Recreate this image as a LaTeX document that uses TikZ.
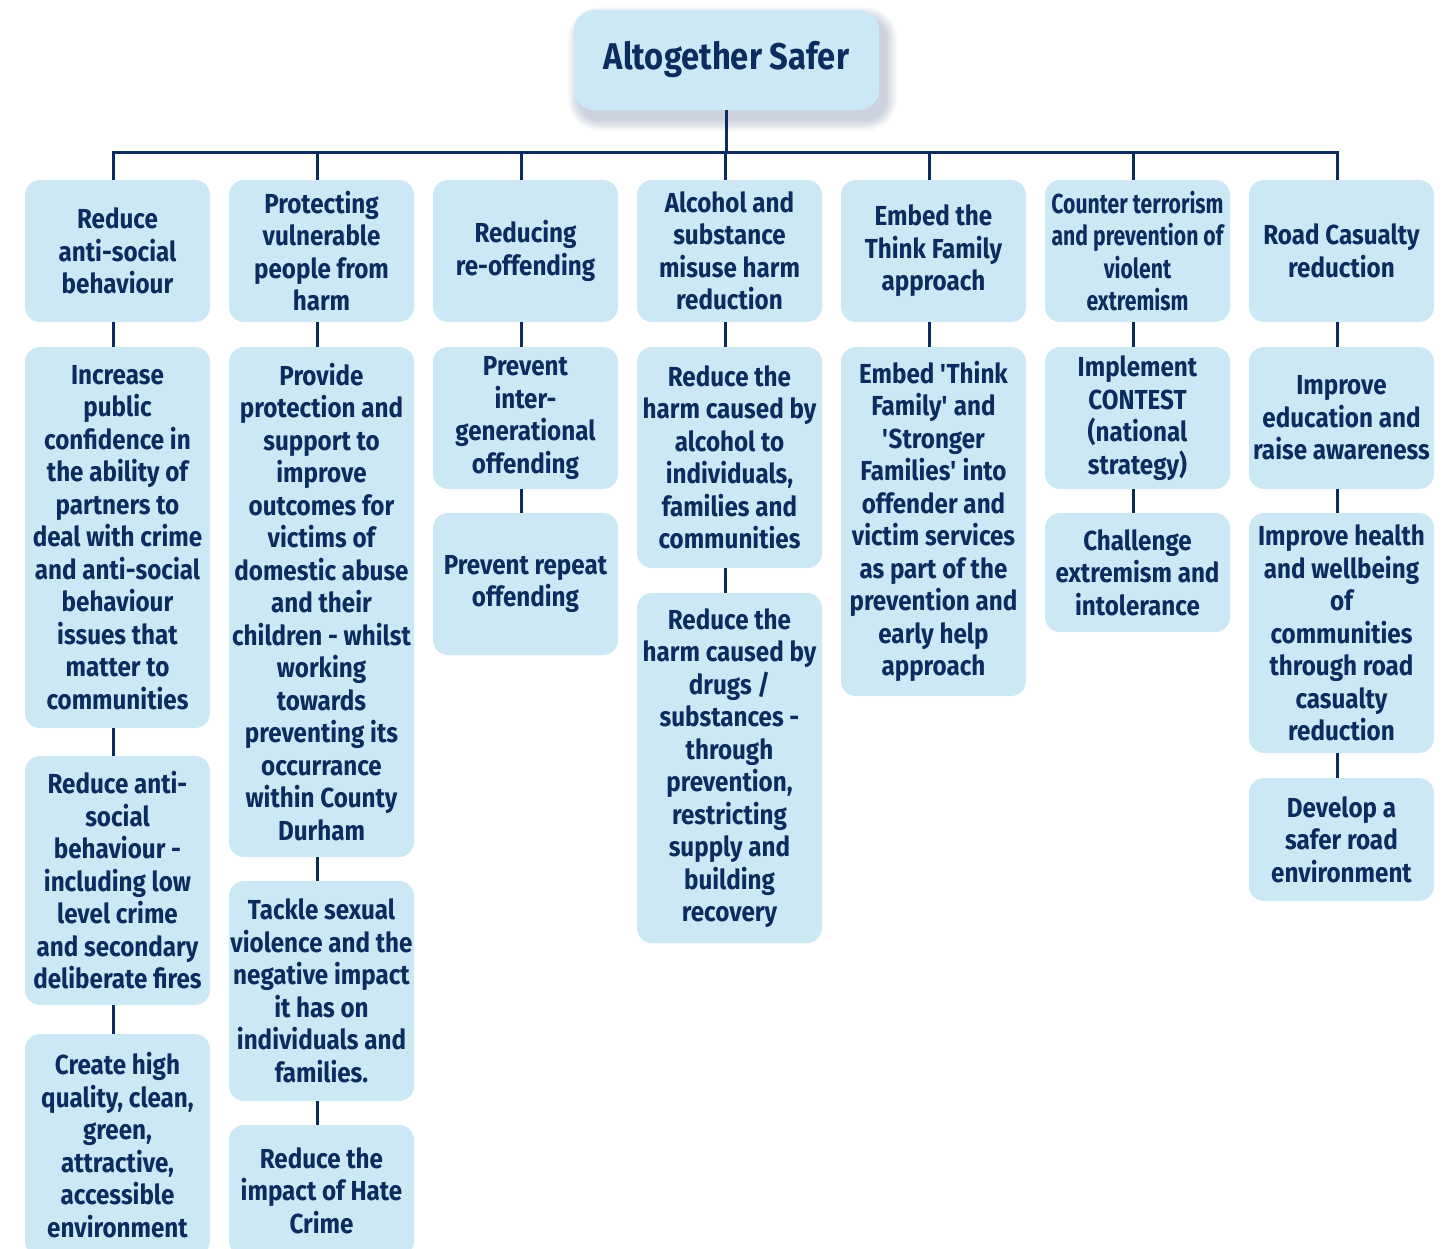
\documentclass[tikz,border=0pt]{standalone}
\usepackage{fontspec}
\setmainfont{Fira Sans}[FakeStretch=0.88]
\newfontfamily\narrowfont{Fira Sans}[FakeStretch=0.77]
\definecolor{navy}{HTML}{0C2B5E}
\definecolor{boxfill}{HTML}{CCE8F5}
\definecolor{shadowc}{HTML}{5A6F95}
\tikzset{
  box/.style={rectangle, rounded corners=7.5pt, fill=boxfill, text=navy, align=center,
    inner sep=0pt, font=\bfseries\fontsize{13.75}{16.25}\selectfont},
  topbox/.style={rectangle, rounded corners=10pt, fill=boxfill, text=navy, align=center,
    inner sep=0pt, minimum width=152.5pt, minimum height=50pt,
    font=\bfseries\fontsize{18.6}{22}\selectfont},
  conn/.style={draw=navy, line width=1.5pt},
}
\newcommand\bx[7][]{\node[box, #1, minimum width={(#5-#3)*0.5pt}, minimum height={(#6-#4)*0.5pt}] (#2) at ({(#3+#5)/2},{(#4+#6)/2}) {#7};}
\newcommand\tq{\textquotesingle}
\begin{document}
\begin{tikzpicture}[x=0.5pt, y=-0.5pt]
\useasboundingbox (0,0) rectangle (1448,1249);
% shadow of the top box
\foreach \i in {1,...,12}
  \fill[shadowc, opacity=0.032, rounded corners={(10+0.5*\i)*1pt}] ({574+6-\i},{10+9-\i}) rectangle ({879+6+\i},{110+9+\i});
\node[topbox] (top) at (726.5,60) {Altogether Safer};
% column 1
\bx{a1}{25}{180}{210}{322}{Reduce\\anti-social\\behaviour}
\bx{a2}{25}{347}{210}{728}{Increase\\public\\confidence in\\the ability of\\partners to\\deal with crime\\and anti-social\\behaviour\\issues that\\matter to\\communities}
\bx{a3}{25}{756}{210}{1005}{Reduce anti-\\social\\behaviour -\\including low\\level crime\\and secondary\\deliberate fires}
\bx{a4}{25}{1034}{210}{1256}{Create high\\quality, clean,\\green,\\attractive,\\accessible\\environment}
% column 2
\bx{b1}{229}{180}{414}{322}{Protecting\\vulnerable\\people from\\harm}
\bx{b2}{229}{347}{414}{857}{Provide\\protection and\\support to\\improve\\outcomes for\\victims of\\domestic abuse\\and their\\children - whilst\\working\\towards\\preventing its\\occurrance\\within County\\Durham}
\bx{b3}{229}{881}{414}{1101}{Tackle sexual\\violence and the\\negative impact\\it has on\\individuals and\\families.}
\bx{b4}{229}{1125}{414}{1256}{Reduce the\\impact of Hate\\Crime}
% column 3
\bx{c1}{433}{180}{618}{322}{Reducing\\re-offending}
\bx{c2}{433}{347}{618}{489}{Prevent\\inter-\\generational\\offending}
\bx{c3}{433}{513}{618}{655}{Prevent repeat\\offending}
% column 4
\bx{d1}{637}{180}{822}{322}{Alcohol and\\substance\\misuse harm\\reduction}
\bx{d2}{637}{347}{822}{568}{Reduce the\\harm caused by\\alcohol to\\individuals,\\families and\\communities}
\bx{d3}{637}{593}{822}{943}{Reduce the\\harm caused by\\drugs /\\substances -\\through\\prevention,\\restricting\\supply and\\building\\recovery}
% column 5
\bx{e1}{841}{180}{1026}{322}{Embed the\\Think Family\\approach}
\bx{e2}{841}{347}{1026}{696}{Embed \tq Think\\Family\tq\ and\\\tq Stronger\\Families\tq\ into\\offender and\\victim services\\as part of the\\prevention and\\early help\\approach}
% column 6
\bx[font=\narrowfont\bfseries\fontsize{13.75}{16.25}\selectfont]{f1}{1045}{180}{1230}{322}{Counter terrorism\\and prevention of\\violent\\extremism}
\bx{f2}{1045}{347}{1230}{489}{Implement\\CONTEST\\(national\\strategy)}
\bx{f3}{1045}{513}{1230}{632}{Challenge\\extremism and\\intolerance}
% column 7
\bx{g1}{1249}{180}{1434}{322}{Road Casualty\\reduction}
\bx{g2}{1249}{347}{1434}{489}{Improve\\education and\\raise awareness}
\bx{g3}{1249}{513}{1434}{753}{Improve health\\and wellbeing\\of\\communities\\through road\\casualty\\reduction}
\bx{g4}{1249}{778}{1434}{901}{Develop a\\safer road\\environment}
% bus
\coordinate (bus) at (0,152);
\draw[conn] (top.south) -- (top.south |- bus);
\draw[conn, line join=miter] ([xshift=-2pt]a1.north) -- ([xshift=-2pt]a1.north |- bus) -- ([xshift=-2pt]g1.north |- bus) -- ([xshift=-2pt]g1.north);
\foreach \n in {b1,c1,d1,e1,f1}
  \draw[conn] ([xshift=-2pt]\n.north) -- ([xshift=-2pt]\n.north |- bus);
% vertical links
\foreach \p/\q in {a1/a2,a2/a3,a3/a4,b1/b2,b2/b3,b3/b4,c1/c2,c2/c3,d1/d2,d2/d3,e1/e2,f1/f2,f2/f3,g1/g2,g2/g3,g3/g4}
  \draw[conn] ([xshift=-2pt]\p.south) -- ([xshift=-2pt]\q.north);
\end{tikzpicture}
\end{document}
